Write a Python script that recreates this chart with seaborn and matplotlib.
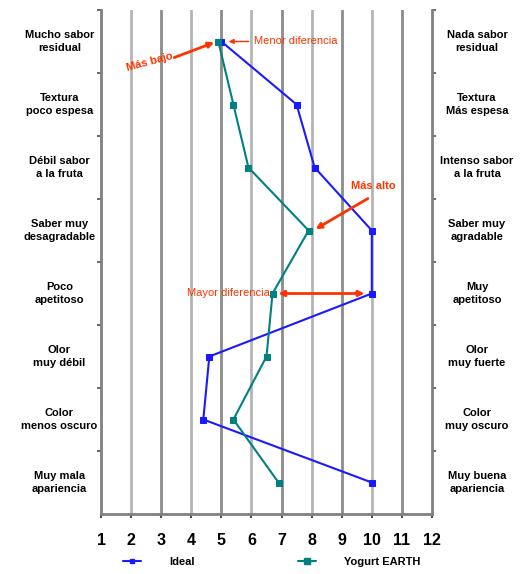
import matplotlib
matplotlib.use("Agg")
import matplotlib.pyplot as plt
import seaborn as sns
import pandas as pd
from matplotlib.lines import Line2D

left_labels = ["Mucho sabor\nresidual", "Textura\npoco espesa", "Débil sabor\na la fruta",
               "Saber muy\ndesagradable", "Poco\napetitoso", "Olor\nmuy débil",
               "Color\nmenos oscuro", "Muy mala\napariencia"]
right_labels = ["Nada sabor\nresidual", "Textura\nMás espesa", "Intenso sabor\na la fruta",
                "Saber muy\nagradable", "Muy\napetitoso", "Olor\nmuy fuerte",
                "Color\nmuy oscuro", "Muy buena\napariencia"]
ideal = [5.0, 7.5, 8.1, 10.0, 10.0, 4.6, 4.4, 10.0]
yogurt = [4.9, 5.4, 5.9, 7.9, 6.7, 6.5, 5.4, 6.9]
x_ticks = list(range(1, 13))
series_names = ["Ideal", "Yogurt EARTH"]

sns.set_theme(style="white")
plt.rcParams['font.family'] = ['Liberation Sans', 'DejaVu Sans']
plt.rcParams['text.color'] = 'black'
plt.rcParams['xtick.color'] = 'black'

rows = list(range(len(ideal)))
df = pd.concat([
    pd.DataFrame({"valor": ideal, "fila": rows, "serie": series_names[0]}),
    pd.DataFrame({"valor": yogurt, "fila": rows, "serie": series_names[1]}),
])

fig = plt.figure(figsize=(5.2, 5.74), dpi=100)
ax = fig.add_axes([101/520, 1-514/574, (432-101)/520, (514-10)/574])

blue = "#1a1aff"
teal = "#008080"

# grid lines
grid_cols = ["#b4b4b4", "#8c8c8c"]
for i, xv in enumerate(x_ticks[1:-1]):
    ax.axvline(xv, color=grid_cols[i % 2], lw=2, zorder=0)

sns.lineplot(data=df[df.serie == series_names[0]], x="valor", y="fila", orient="y", sort=False,
             color=blue, marker="s", markersize=4, markeredgecolor=blue, lw=1.5, ax=ax,
             legend=False, zorder=3)
sns.lineplot(data=df[df.serie == series_names[1]], x="valor", y="fila", orient="y", sort=False,
             color=teal, marker="s", markersize=5, markeredgecolor=teal, lw=1.5, ax=ax,
             legend=False, zorder=4)

ax.set_xlim(1, 12)
ax.set_ylim(len(rows) - 0.5, -0.5)
ax.set_xticks(x_ticks)
ax.set_xticklabels([str(v) for v in x_ticks], fontsize=11.5, fontweight="bold", color="black")
ax.set_yticks([r + 0.5 for r in rows[:-1]] + [-0.5])
ax.set_yticklabels([])
ax.tick_params(axis="x", bottom=True, length=3, width=1.5, color="#505050", pad=11)
ax.tick_params(axis="y", left=True, right=True, length=3, width=1.2, color="#505050")
ax.set_xlabel("")
ax.set_ylabel("")
ax.spines["top"].set_visible(False)
for s in ["left", "right", "bottom"]:
    ax.spines[s].set_color("#808080")
    ax.spines[s].set_linewidth(2)

for r in rows:
    ax.text(-0.126, r, left_labels[r], transform=ax.get_yaxis_transform(), ha="center", va="center",
            fontsize=8, fontweight="bold", linespacing=1.35, color="black")
    ax.text(1.136, r, right_labels[r], transform=ax.get_yaxis_transform(), ha="center", va="center",
            fontsize=8, fontweight="bold", linespacing=1.35, color="black")

red = "#ff3300"
ax.annotate("", xy=(5.15, 0.0), xytext=(6.0, 0.0),
            arrowprops=dict(arrowstyle="-|>", color=red, lw=1, mutation_scale=7))
ax.text(6.1, 0.0, "Menor diferencia", color=red, fontsize=8, va="center", ha="left")
ax.annotate("", xy=(4.85, 0.0), xytext=(3.35, 0.27),
            arrowprops=dict(arrowstyle="-|>", color=red, lw=2, mutation_scale=8))
ax.text(1.8, 0.33, "Más bajo", color=red, fontsize=8, fontweight="bold", va="center", ha="left", rotation=15)
ax.text(9.3, 2.3, "Más alto", color=red, fontsize=8, fontweight="bold", va="center", ha="left")
ax.annotate("", xy=(8.05, 3.0), xytext=(9.95, 2.47),
            arrowprops=dict(arrowstyle="-|>", color=red, lw=2, mutation_scale=8))
ax.annotate("", xy=(6.8, 4.0), xytext=(9.85, 4.0),
            arrowprops=dict(arrowstyle="<|-|>", color=red, lw=2, mutation_scale=8))
ax.text(6.6, 4.0, "Mayor diferencia", color=red, fontsize=8, va="center", ha="right")

h1 = Line2D([], [], color=blue, marker="s", markersize=3.5, lw=1.5)
h2 = Line2D([], [], color=teal, marker="s", markersize=4, lw=1.5)
legkw = dict(frameon=False, handlelength=1.6, handletextpad=2.5, borderpad=0.2, borderaxespad=0,
             prop=dict(size=8, weight="bold"), labelcolor="black")
fig.legend([h1], [series_names[0]], loc="center left", bbox_to_anchor=(121/520, 1-562/574), **legkw)
fig.legend([h2], [series_names[1]], loc="center left", bbox_to_anchor=(296/520, 1-562/574), **legkw)

fig.savefig("out.png", dpi=100)
